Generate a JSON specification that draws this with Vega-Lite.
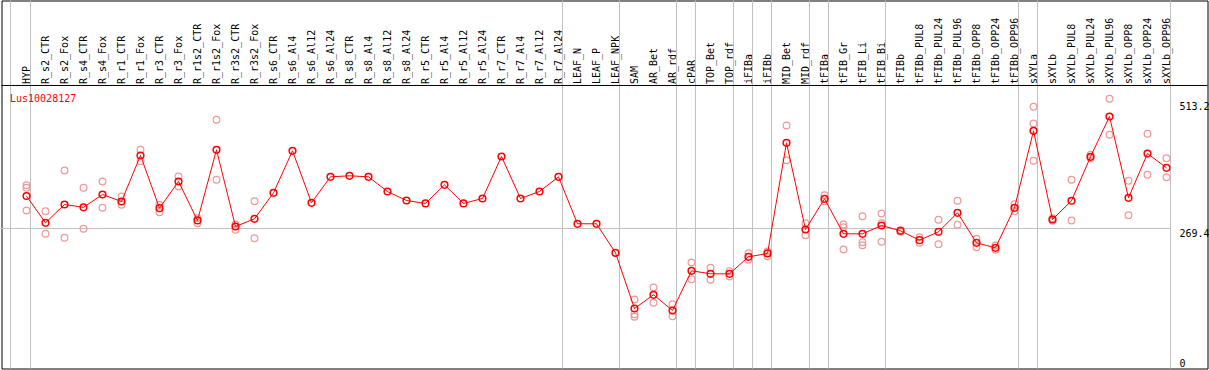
{
  "$schema": "https://vega.github.io/schema/vega-lite/v6.json",
  "width": 1206,
  "height": 368,
  "autosize": {"type": "none"},
  "padding": {"left": 1.5, "top": 0.5, "right": 1.5, "bottom": 1.5},
  "background": "white",
  "title": {
    "text": "Lus10028127",
    "anchor": "start",
    "frame": "group",
    "orient": "top",
    "offset": -104,
    "baseline": "top",
    "dx": 8.5,
    "font": "DejaVu Sans Mono",
    "fontSize": 10,
    "fontWeight": "normal",
    "color": "#ff0000"
  },
  "config": {
    "view": {"stroke": "#000000", "strokeWidth": 1},
    "axis": {"labelFont": "DejaVu Sans Mono", "labelFontSize": 10, "labelColor": "#000000"}
  },
  "datasets": {
    "means": [
      {"sample": "HYP", "value": 331.9},
      {"sample": "R_s2_CTR", "value": 280.3},
      {"sample": "R_s2_Fox", "value": 315.5},
      {"sample": "R_s4_CTR", "value": 310.0},
      {"sample": "R_s4_Fox", "value": 334.8},
      {"sample": "R_r1_CTR", "value": 321.3},
      {"sample": "R_r1_Fox", "value": 409.8},
      {"sample": "R_r3_CTR", "value": 308.4},
      {"sample": "R_r3_Fox", "value": 359.8},
      {"sample": "R_r1s2_CTR", "value": 284.8},
      {"sample": "R_r1s2_Fox", "value": 420.8},
      {"sample": "R_r3s2_CTR", "value": 273.2},
      {"sample": "R_r3s2_Fox", "value": 288.0},
      {"sample": "R_s6_CTR", "value": 338.0},
      {"sample": "R_s6_Al4", "value": 418.8},
      {"sample": "R_s6_Al12", "value": 318.8},
      {"sample": "R_s6_Al24", "value": 368.8},
      {"sample": "R_s8_CTR", "value": 370.7},
      {"sample": "R_s8_Al4", "value": 368.8},
      {"sample": "R_s8_Al12", "value": 340.5},
      {"sample": "R_s8_Al24", "value": 323.2},
      {"sample": "R_r5_CTR", "value": 317.5},
      {"sample": "R_r5_Al4", "value": 353.4},
      {"sample": "R_r5_Al12", "value": 317.5},
      {"sample": "R_r5_Al24", "value": 327.1},
      {"sample": "R_r7_CTR", "value": 407.9},
      {"sample": "R_r7_Al4", "value": 327.1},
      {"sample": "R_r7_Al12", "value": 340.5},
      {"sample": "R_r7_Al24", "value": 368.8},
      {"sample": "LEAF_N", "value": 278.4},
      {"sample": "LEAF_P", "value": 278.4},
      {"sample": "LEAF_NPK", "value": 222.6},
      {"sample": "SAM", "value": 115.4},
      {"sample": "AR_Bet", "value": 141.8},
      {"sample": "AR_rdf", "value": 111.6},
      {"sample": "cPAR", "value": 188.0},
      {"sample": "TOP_Bet", "value": 182.2},
      {"sample": "TOP_rdf", "value": 182.2},
      {"sample": "iFIBa", "value": 214.9},
      {"sample": "iFIBb", "value": 221.3},
      {"sample": "MID_Bet", "value": 434.2},
      {"sample": "MID_rdf", "value": 267.4},
      {"sample": "tFIBa", "value": 326.5},
      {"sample": "tFIB_Gr", "value": 259.1},
      {"sample": "tFIB_Li", "value": 259.1},
      {"sample": "tFIB_Bi", "value": 275.1},
      {"sample": "tFIBb", "value": 264.9},
      {"sample": "tFIBb_PUL8", "value": 246.9},
      {"sample": "tFIBb_PUL24", "value": 263.0},
      {"sample": "tFIBb_PUL96", "value": 299.6},
      {"sample": "tFIBb_OPP8", "value": 241.8},
      {"sample": "tFIBb_OPP24", "value": 232.2},
      {"sample": "tFIBb_OPP96", "value": 309.2},
      {"sample": "sXYLa", "value": 457.3},
      {"sample": "sXYLb", "value": 286.7},
      {"sample": "sXYLb_PUL8", "value": 322.7},
      {"sample": "sXYLb_PUL24", "value": 407.3},
      {"sample": "sXYLb_PUL96", "value": 484.8},
      {"sample": "sXYLb_OPP8", "value": 328.4},
      {"sample": "sXYLb_OPP24", "value": 413.6},
      {"sample": "sXYLb_OPP96", "value": 386.1}
    ],
    "reps": [
      {"sample": "HYP", "value": 352.7}, {"sample": "HYP", "value": 347.7}, {"sample": "HYP", "value": 303.9},
      {"sample": "R_s2_CTR", "value": 302.6}, {"sample": "R_s2_CTR", "value": 259.2},
      {"sample": "R_s2_Fox", "value": 381.0}, {"sample": "R_s2_Fox", "value": 251.5},
      {"sample": "R_s4_CTR", "value": 347.7}, {"sample": "R_s4_CTR", "value": 268.8},
      {"sample": "R_s4_Fox", "value": 359.8}, {"sample": "R_s4_Fox", "value": 309.2},
      {"sample": "R_r1_CTR", "value": 331.0}, {"sample": "R_r1_CTR", "value": 315.0},
      {"sample": "R_r1_Fox", "value": 420.8}, {"sample": "R_r1_Fox", "value": 398.9},
      {"sample": "R_r3_CTR", "value": 315.0}, {"sample": "R_r3_CTR", "value": 300.7},
      {"sample": "R_r3_Fox", "value": 369.4}, {"sample": "R_r3_Fox", "value": 350.2},
      {"sample": "R_r1s2_CTR", "value": 289.2}, {"sample": "R_r1s2_CTR", "value": 279.6},
      {"sample": "R_r1s2_Fox", "value": 478.5}, {"sample": "R_r1s2_Fox", "value": 363.1},
      {"sample": "R_r3s2_CTR", "value": 277.0}, {"sample": "R_r3s2_CTR", "value": 267.0},
      {"sample": "R_r3s2_Fox", "value": 321.9}, {"sample": "R_r3s2_Fox", "value": 250.7},
      {"sample": "SAM", "value": 132.8}, {"sample": "SAM", "value": 104.2}, {"sample": "SAM", "value": 99.5},
      {"sample": "AR_Bet", "value": 155.8}, {"sample": "AR_Bet", "value": 126.4},
      {"sample": "AR_rdf", "value": 123.7}, {"sample": "AR_rdf", "value": 100.6},
      {"sample": "cPAR", "value": 203.9}, {"sample": "cPAR", "value": 171.8},
      {"sample": "TOP_Bet", "value": 193.7}, {"sample": "TOP_Bet", "value": 170.6},
      {"sample": "TOP_rdf", "value": 187.2}, {"sample": "TOP_rdf", "value": 177.0},
      {"sample": "iFIBa", "value": 221.8}, {"sample": "iFIBa", "value": 209.1},
      {"sample": "iFIBb", "value": 225.1}, {"sample": "iFIBb", "value": 216.1},
      {"sample": "MID_Bet", "value": 467.5}, {"sample": "MID_Bet", "value": 400.8},
      {"sample": "MID_rdf", "value": 279.6}, {"sample": "MID_rdf", "value": 256.5},
      {"sample": "tFIBa", "value": 333.5}, {"sample": "tFIBa", "value": 321.9},
      {"sample": "tFIB_Gr", "value": 277.0}, {"sample": "tFIB_Gr", "value": 271.9}, {"sample": "tFIB_Gr", "value": 229.0},
      {"sample": "tFIB_Li", "value": 293.0}, {"sample": "tFIB_Li", "value": 243.0}, {"sample": "tFIB_Li", "value": 237.2},
      {"sample": "tFIB_Bi", "value": 298.2}, {"sample": "tFIB_Bi", "value": 279.6}, {"sample": "tFIB_Bi", "value": 243.8},
      {"sample": "tFIBb", "value": 266.0}, {"sample": "tFIBb", "value": 263.0},
      {"sample": "tFIBb_PUL8", "value": 252.6}, {"sample": "tFIBb_PUL8", "value": 242.0},
      {"sample": "tFIBb_PUL24", "value": 286.1}, {"sample": "tFIBb_PUL24", "value": 239.2},
      {"sample": "tFIBb_PUL96", "value": 322.7}, {"sample": "tFIBb_PUL96", "value": 276.5},
      {"sample": "tFIBb_OPP8", "value": 249.5}, {"sample": "tFIBb_OPP8", "value": 233.4},
      {"sample": "tFIBb_OPP24", "value": 236.6}, {"sample": "tFIBb_OPP24", "value": 228.3},
      {"sample": "tFIBb_OPP96", "value": 316.1}, {"sample": "tFIBb_OPP96", "value": 302.6},
      {"sample": "sXYLa", "value": 503.5}, {"sample": "sXYLa", "value": 471.4}, {"sample": "sXYLa", "value": 399.6},
      {"sample": "sXYLb", "value": 289.2}, {"sample": "sXYLb", "value": 284.2},
      {"sample": "sXYLb_PUL8", "value": 363.1}, {"sample": "sXYLb_PUL8", "value": 284.8},
      {"sample": "sXYLb_PUL24", "value": 411.2}, {"sample": "sXYLb_PUL24", "value": 404.6},
      {"sample": "sXYLb_PUL96", "value": 518.9}, {"sample": "sXYLb_PUL96", "value": 449.6},
      {"sample": "sXYLb_OPP8", "value": 361.2}, {"sample": "sXYLb_OPP8", "value": 295.0},
      {"sample": "sXYLb_OPP24", "value": 451.5}, {"sample": "sXYLb_OPP24", "value": 372.7},
      {"sample": "sXYLb_OPP96", "value": 404.6}, {"sample": "sXYLb_OPP96", "value": 368.1}
    ],
    "bounds": [
      {"after": "HYP"}, {"after": "R_r7_Al24"}, {"after": "LEAF_NPK"}, {"after": "AR_rdf"},
      {"after": "cPAR"}, {"after": "TOP_rdf"}, {"after": "iFIBa"}, {"after": "iFIBb"},
      {"after": "MID_rdf"}, {"after": "tFIBa"}, {"after": "tFIB_Bi"}, {"after": "tFIBb_OPP96"},
      {"after": "sXYLa"}, {"after": "sXYLb_OPP96"}
    ]
  },
  "layer": [
    {
      "data": {"name": "bounds"},
      "mark": {"type": "rule", "color": "#c0c0c0", "strokeWidth": 1, "xOffset": 4},
      "encoding": {"x": {"field": "after", "type": "nominal", "sort": null}}
    },
    {
      "data": {"values": [{}]},
      "mark": {"type": "rule", "color": "#c0c0c0", "strokeWidth": 1, "xOffset": -16},
      "encoding": {"x": {"datum": "HYP", "type": "nominal"}}
    },
    {
      "data": {"values": [{}]},
      "mark": {"type": "rule", "color": "#c0c0c0", "strokeWidth": 1, "xOffset": -26, "x2Offset": 4},
      "encoding": {
        "x": {"datum": "HYP", "type": "nominal"},
        "x2": {"datum": "sXYLb_OPP96"},
        "y": {"datum": 269.4, "type": "quantitative"}
      }
    },
    {
      "data": {"values": [{}]},
      "mark": {"type": "rule", "color": "#000000", "strokeWidth": 1},
      "encoding": {"y": {"datum": 544.5, "type": "quantitative"}}
    },
    {
      "data": {"name": "reps"},
      "mark": {"type": "point", "shape": "circle", "filled": false, "stroke": "#ee9999", "strokeWidth": 1.2, "size": 45, "opacity": 1},
      "encoding": {
        "x": {"field": "sample", "type": "nominal", "sort": null},
        "y": {"field": "value", "type": "quantitative"}
      }
    },
    {
      "data": {"name": "means"},
      "mark": {"type": "line", "color": "#ff0000", "strokeWidth": 1},
      "encoding": {
        "x": {
          "field": "sample", "type": "nominal", "sort": null,
          "scale": {
            "type": "point",
            "range": [25, 1165],
            "padding": 0,
            "domain": ["HYP","R_s2_CTR","R_s2_Fox","R_s4_CTR","R_s4_Fox","R_r1_CTR","R_r1_Fox","R_r3_CTR","R_r3_Fox","R_r1s2_CTR","R_r1s2_Fox","R_r3s2_CTR","R_r3s2_Fox","R_s6_CTR","R_s6_Al4","R_s6_Al12","R_s6_Al24","R_s8_CTR","R_s8_Al4","R_s8_Al12","R_s8_Al24","R_r5_CTR","R_r5_Al4","R_r5_Al12","R_r5_Al24","R_r7_CTR","R_r7_Al4","R_r7_Al12","R_r7_Al24","LEAF_N","LEAF_P","LEAF_NPK","SAM","AR_Bet","AR_rdf","cPAR","TOP_Bet","TOP_rdf","iFIBa","iFIBb","MID_Bet","MID_rdf","tFIBa","tFIB_Gr","tFIB_Li","tFIB_Bi","tFIBb","tFIBb_PUL8","tFIBb_PUL24","tFIBb_PUL96","tFIBb_OPP8","tFIBb_OPP24","tFIBb_OPP96","sXYLa","sXYLb","sXYLb_PUL8","sXYLb_PUL24","sXYLb_PUL96","sXYLb_OPP8","sXYLb_OPP24","sXYLb_OPP96"]
          },
          "axis": {
            "orient": "top",
            "offset": -85,
            "title": null,
            "domain": false,
            "ticks": false,
            "tickSize": 0,
            "grid": false,
            "labelAngle": 270,
            "labelAlign": "left",
            "labelBaseline": "middle",
            "labelPadding": 2,
            "labelOverlap": false,
            "labelBound": false,
            "labelFlush": false
          }
        },
        "y": {
          "field": "value", "type": "quantitative",
          "scale": {"domain": [0, 708], "nice": false, "zero": false},
          "axis": {
            "orient": "right",
            "offset": -37,
            "title": null,
            "domain": false,
            "ticks": false,
            "tickSize": 0,
            "grid": false,
            "values": [0, 269.4, 513.2],
            "labelExpr": "datum.value == 0 ? '0' : format(datum.value, '.1f')",
            "labelAlign": "left",
            "labelBaseline": {"expr": "datum.value == 0 ? 'bottom' : 'top'"},
            "labelPadding": 8.5,
            "labelFlush": false,
            "labelOverlap": false
          }
        }
      }
    },
    {
      "data": {"name": "means"},
      "mark": {"type": "point", "shape": "circle", "filled": false, "stroke": "#ff0000", "strokeWidth": 1.5, "size": 45, "opacity": 1},
      "encoding": {
        "x": {"field": "sample", "type": "nominal", "sort": null},
        "y": {"field": "value", "type": "quantitative"}
      }
    }
  ]
}
